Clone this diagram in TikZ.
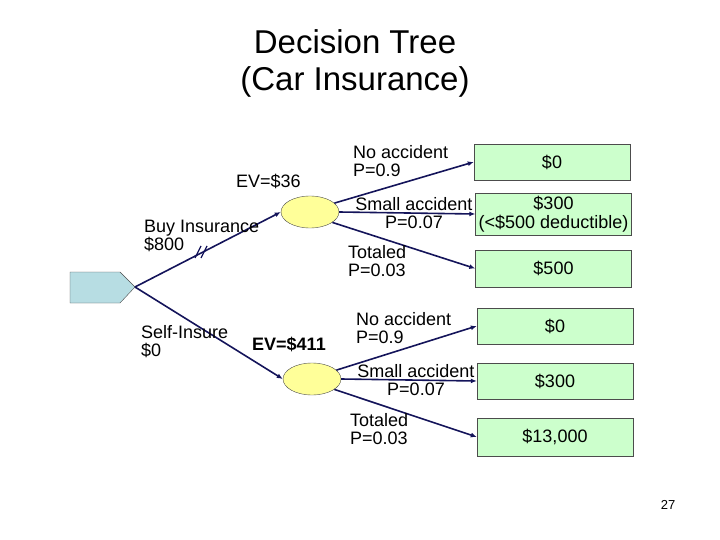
\documentclass[tikz,border=0pt]{standalone}
\usepackage{fontspec}
\setmainfont{Liberation Sans}
\usetikzlibrary{arrows.meta,shapes.geometric}
\definecolor{navy}{RGB}{20,20,90}
\definecolor{boxg}{RGB}{204,255,204}
\definecolor{ely}{RGB}{255,255,153}
\definecolor{decb}{RGB}{183,221,227}
\begin{document}
\begin{tikzpicture}[x=1pt,y=-1pt,
  lab/.style={font=\fontsize{18}{18}\selectfont,align=left,inner sep=0pt},
  box/.style={draw=black!70,fill=boxg,minimum width=156pt,font=\fontsize{18}{19}\selectfont,align=center,inner sep=0pt},
  chance/.style={draw=black!70,fill=ely,ellipse,minimum width=58pt,minimum height=32pt,inner sep=0pt},
  arr/.style={draw=navy,line width=1.6pt,-{Latex[length=6pt,width=5pt]}}]
\useasboundingbox (0,0) rectangle (720,540);
\node[font=\fontsize{33}{37}\selectfont,align=center] (title) at (355,63) {Decision Tree\\(Car Insurance)};
% decision node
\draw[draw=black!70,fill=decb] (70,272) -- (120,272) -- (135,287) -- (120,303) -- (70,303) -- cycle;
\coordinate (d) at (135,287);
\node[chance] (c1) at (310,212) {};
\node[chance] (c2) at (312,379) {};
\node[box,minimum height=36pt] (b1) at (552,162) {\$0};
\node[box,minimum height=42pt] (b2) at (553.5,214) {\$300\\(<\$500 deductible)};
\node[box,minimum height=37pt] (b3) at (553.5,268.5) {\$500};
\node[box,minimum height=36pt] (b4) at (555,326) {\$0};
\node[box,minimum height=36pt] (b5) at (555,381) {\$300};
\node[box,minimum height=38pt] (b6) at (555,437) {\$13,000};
\draw[arr] (d) -- (c1.west);
\draw[arr] (d) -- (c2.west);
\draw[arr] (c1.20) -- (b1.west);
\draw[arr] (c1.east) -- (b2.west);
\draw[arr] (c1.-25) -- (b3.west);
\draw[arr] (c2.20) -- (b4.west);
\draw[arr] (c2.east) -- (b5.west);
\draw[arr] (c2.-25) -- (b6.west);
% hash marks
\draw[navy,line width=1.2pt] (195,258) -- (201,246) (201,258) -- (207,246);
\node[lab,anchor=north west] (ev1) at (236,174) {EV=\$36};
\node[lab,anchor=north west,font=\fontsize{18}{18}\selectfont\bfseries] (ev2) at (252,337) {EV=\$411};
\node[lab,anchor=north west] (buy) at (144,220) {Buy Insurance\\\$800};
\node[lab,anchor=north west] (self) at (141,325) {Self-Insure\\\$0};
\node[lab,anchor=north west] (n1) at (353,145) {No accident\\P=0.9};
\node[lab,anchor=north,align=center] (s1) at (414,197) {Small accident\\P=0.07};
\node[lab,anchor=north west] (t1) at (348,245) {Totaled\\P=0.03};
\node[lab,anchor=north west] (n2) at (356,312) {No accident\\P=0.9};
\node[lab,anchor=north,align=center] (s2) at (416,364) {Small accident\\P=0.07};
\node[lab,anchor=north west] (t2) at (350,413) {Totaled\\P=0.03};
\node[font=\fontsize{13}{13}\selectfont] (pg) at (668,505) {27};
\end{tikzpicture}
\end{document}
